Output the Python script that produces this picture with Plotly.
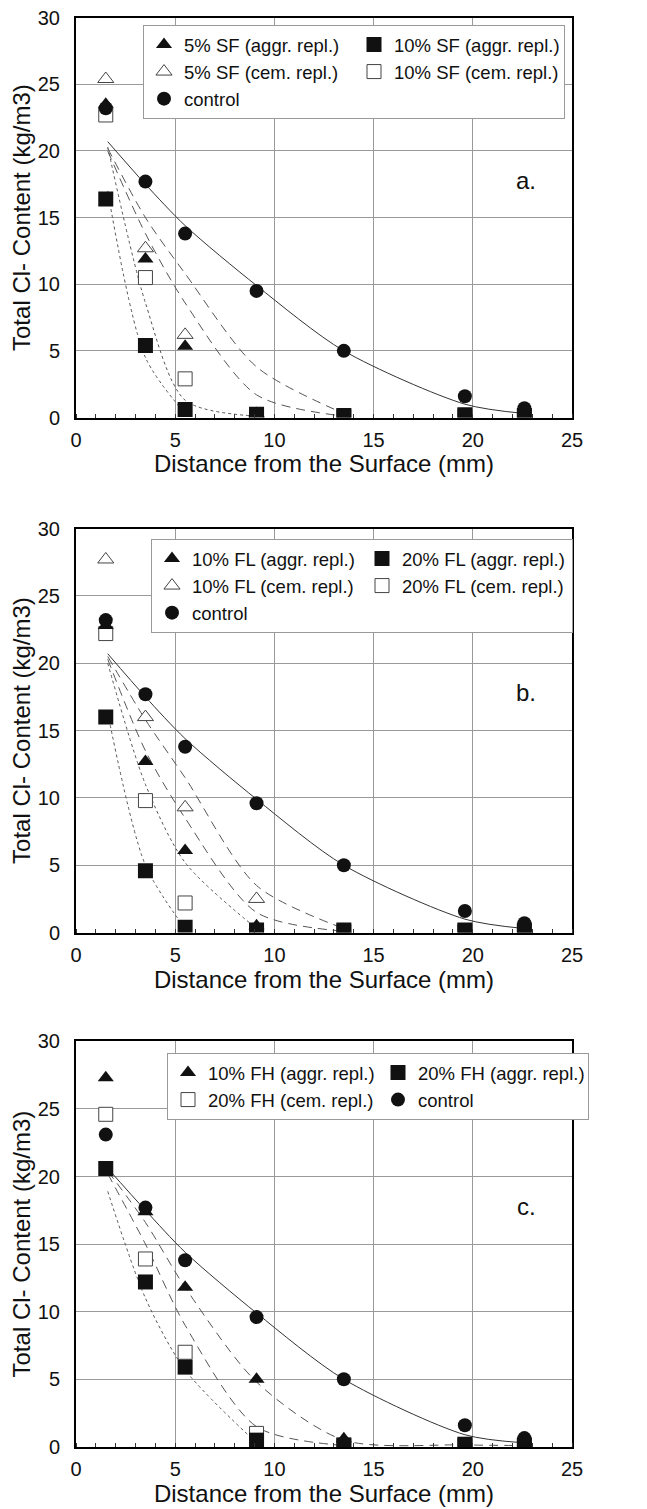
import plotly.graph_objects as go

# ---------------- data ----------------
depth = [1.5, 3.5, 5.5, 9.1, 13.5, 19.6, 22.6]          # mm
fit_depth = [1.6, 3.5, 5.5, 9.1, 13.5, 19.6, 22.6]     # positions where fitted curves were read

# panel a (silica fume)
a_control = [23.2, 17.7, 13.8, 9.5, 5.0, 1.6, 0.7]
a_sf5_aggr = [23.5, 11.9, 5.35, 0.3, 0.1, 0.1, 0.1]
a_sf5_cem = [25.4, 12.7, 6.2, 0.2, 0.1, 0.1, 0.1]
a_sf10_aggr = [16.4, 5.4, 0.6, 0.25, 0.15, 0.2, 0.15]
a_sf10_cem = [22.7, 10.5, 2.9, 0.1, 0.1, 0.1, 0.1]
a_fit_control = [20.7, 17.5, 14.4, 9.9, 5.0, 1.0, 0.3]
a_fit_sf5_cem = [20.2, 15.0, 10.8, 3.8, 0.3]
a_fit_sf5_aggr = [20.0, 13.8, 8.6, 1.7, 0.1]
a_fit_sf10_cem = [20.3, 8.6, 1.3, 0.1]
a_fit_sf10_aggr = [17.0, 4.5, 0.3]

# panel b (fly ash, low calcium)
b_control = [23.2, 17.7, 13.8, 9.6, 5.0, 1.6, 0.7]
b_fl10_aggr = [22.8, 12.7, 6.1, 0.5, 0.1, 0.1, 0.1]
b_fl10_cem = [27.7, 16.0, 9.3, 2.5, 0.2, 0.1, 0.1]
b_fl20_aggr = [16.0, 4.6, 0.4, 0.2, 0.2, 0.2, 0.2]
b_fl20_cem = [22.2, 9.8, 2.2, 0.1, 0.1, 0.1, 0.1]
b_fit_control = [20.7, 17.5, 14.4, 9.9, 5.0, 1.0, 0.3]
b_fit_fl10_cem = [20.5, 15.8, 11.5, 3.5, 0.3]
b_fit_fl10_aggr = [20.3, 13.5, 8.5, 1.5, 0.1]
b_fit_fl20_cem = [20.0, 11.0, 5.2, 0.3]
b_fit_fl20_aggr = [16.3, 5.0, 0.3]

# panel c (fly ash, high calcium)
c_control = [23.1, 17.7, 13.8, 9.6, 5.0, 1.6, 0.65]
c_fh10_aggr = [27.3, 17.4, 11.8, 5.0, 0.6, 0.1, 0.1]
c_fh20_aggr = [20.6, 12.2, 5.9, 0.5, 0.15, 0.2, 0.15]
c_fh20_cem = [24.6, 13.9, 7.0, 1.0, 0.1, 0.1, 0.1]
c_fit_control = [20.6, 17.5, 14.4, 9.9, 5.0, 0.9, 0.3]
c_fit_fh10_aggr = [20.4, 16.6, 11.8, 4.8, 0.5, 0.15, 0.1]
c_fit_fh20_cem = [20.2, 15.0, 9.0, 1.5, 0.1]
c_fit_fh20_aggr = [18.9, 11.0, 5.7, 0.3]

x_ticks = [0, 5, 10, 15, 20, 25]
y_ticks = [0, 5, 10, 15, 20, 25, 30]
panel_letters = ["a.", "b.", "c."]

# ---------------- styling ----------------
FONT = "Liberation Sans, Arial, Helvetica, sans-serif"
INK = "#111111"
LINE = "#555555"
LONG = "9px,6px"
FINE = "3px,3px"

fig = go.Figure()

def fit_line(xa, ya, vals, dash, color=LINE):
    fig.add_trace(go.Scatter(
        x=fit_depth[:len(vals)], y=vals, mode="lines", xaxis=xa, yaxis=ya,
        line=dict(color=color, width=1, dash=dash, shape="spline", smoothing=0.8),
        showlegend=False, hoverinfo="skip"))

def pts(xa, ya, leg, name, vals, symbol, size, filled, rank):
    fig.add_trace(go.Scatter(
        x=depth, y=vals, mode="markers", name=name, xaxis=xa, yaxis=ya,
        legend=leg, legendrank=rank,
        marker=dict(symbol=symbol, size=size,
                    color=INK if filled else "white",
                    line=dict(color=INK if filled else "#444444", width=0 if filled else 1))))

# panel a
fit_line("x", "y", a_fit_sf10_aggr, FINE)
fit_line("x", "y", a_fit_sf10_cem, FINE)
fit_line("x", "y", a_fit_sf5_aggr, LONG)
fit_line("x", "y", a_fit_sf5_cem, LONG)
fit_line("x", "y", a_fit_control, "solid", "#333333")
pts("x", "y", "legend", "10% SF (cem. repl.)", a_sf10_cem, "square", 14, False, 4)
pts("x", "y", "legend", "5% SF (cem. repl.)", a_sf5_cem, "triangle-up", 14, False, 3)
pts("x", "y", "legend", "5% SF (aggr. repl.)", a_sf5_aggr, "triangle-up", 14, True, 1)
pts("x", "y", "legend", "10% SF (aggr. repl.)", a_sf10_aggr, "square", 15, True, 2)
pts("x", "y", "legend", "control", a_control, "circle", 14, True, 5)

# panel b
fit_line("x2", "y2", b_fit_fl20_aggr, FINE)
fit_line("x2", "y2", b_fit_fl20_cem, FINE)
fit_line("x2", "y2", b_fit_fl10_aggr, LONG)
fit_line("x2", "y2", b_fit_fl10_cem, LONG)
fit_line("x2", "y2", b_fit_control, "solid", "#333333")
pts("x2", "y2", "legend2", "20% FL (cem. repl.)", b_fl20_cem, "square", 14, False, 4)
pts("x2", "y2", "legend2", "10% FL (cem. repl.)", b_fl10_cem, "triangle-up", 14, False, 3)
pts("x2", "y2", "legend2", "10% FL (aggr. repl.)", b_fl10_aggr, "triangle-up", 14, True, 1)
pts("x2", "y2", "legend2", "20% FL (aggr. repl.)", b_fl20_aggr, "square", 15, True, 2)
pts("x2", "y2", "legend2", "control", b_control, "circle", 14, True, 5)

# panel c
fit_line("x3", "y3", c_fit_fh20_aggr, FINE)
fit_line("x3", "y3", c_fit_fh20_cem, LONG)
fit_line("x3", "y3", c_fit_fh10_aggr, LONG)
fit_line("x3", "y3", c_fit_control, "solid", "#333333")
pts("x3", "y3", "legend3", "20% FH (cem. repl.)", c_fh20_cem, "square", 14, False, 3)
pts("x3", "y3", "legend3", "10% FH (aggr. repl.)", c_fh10_aggr, "triangle-up", 14, True, 1)
pts("x3", "y3", "legend3", "20% FH (aggr. repl.)", c_fh20_aggr, "square", 15, True, 2)
pts("x3", "y3", "legend3", "control", c_control, "circle", 14, True, 4)

# the page body adds an 8px offset, so the figure is 8px smaller and shifted
W, H = 639, 1501
L, R = 68, 75

def ydom(top_px, bot_px):
    return [1 - bot_px / H, 1 - top_px / H]

doms = [ydom(9.7, 409.5), ydom(520.5, 924.6), ydom(1033.3, 1438.9)]

axis_common = dict(showline=True, linecolor="black", linewidth=2, mirror=True,
                   showgrid=True, gridcolor="#9a9a9a", gridwidth=1, zeroline=False,
                   ticks="", tickfont=dict(size=20, color=INK, family=FONT),
                   ticklabeloverflow="allow", automargin=False)

layout = dict(
    width=W, height=H, paper_bgcolor="white", plot_bgcolor="white",
    margin=dict(l=L, r=R, t=0, b=0),
    font=dict(family=FONT, color=INK),
    annotations=[],
)

xnames = ["xaxis", "xaxis2", "xaxis3"]
ynames = ["yaxis", "yaxis2", "yaxis3"]
anchors_x = ["y", "y2", "y3"]
anchors_y = ["x", "x2", "x3"]
for i in range(3):
    layout[xnames[i]] = dict(
        axis_common, domain=[0, 1], anchor=anchors_x[i], range=[0, 25],
        tickvals=x_ticks, ticklabelstandoff=3,
        minor=dict(dtick=1, ticks="inside", ticklen=4, tickcolor="#333", showgrid=False),
        title=dict(text="Distance from the Surface (mm)", standoff=3,
                   font=dict(size=24, color=INK, family=FONT)))
    layout[ynames[i]] = dict(
        axis_common, domain=doms[i], anchor=anchors_y[i], range=[0, 30],
        tickvals=y_ticks, ticklabelstandoff=10,
        title=dict(text="Total Cl- Content (kg/m3)", standoff=8,
                   font=dict(size=24, color=INK, family=FONT)))
    layout["annotations"].append(dict(
        text=panel_letters[i], x=22.7, y=17.8, xref=anchors_y[i], yref=anchors_x[i],
        showarrow=False, font=dict(size=24, color=INK, family=FONT)))

leg_common = dict(orientation="h", entrywidth=165, entrywidthmode="pixels",
                  xanchor="left", yanchor="top", bgcolor="white",
                  bordercolor="#9a9a9a", borderwidth=1,
                  font=dict(size=18.5, color=INK, family=FONT), traceorder="normal")
layout["legend"] = dict(leg_common, x=(135 - L) / (W - L - R), y=1 - 17 / H)
layout["legend2"] = dict(leg_common, x=(143 - L) / (W - L - R), y=1 - 531 / H)
layout["legend3"] = dict(leg_common, x=(159 - L) / (W - L - R), y=1 - 1045 / H)

fig.update_layout(**layout)
fig.write_html("out.html")
